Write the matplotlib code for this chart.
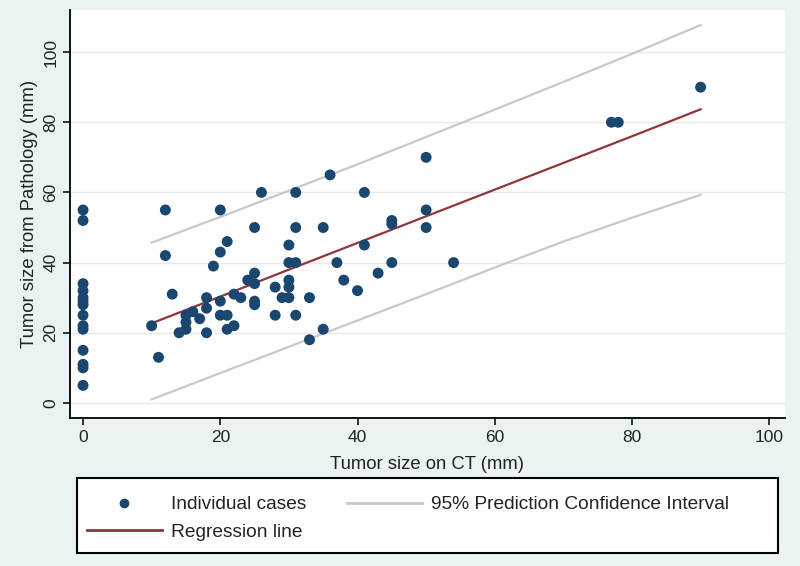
import matplotlib.pyplot as plt
from matplotlib.lines import Line2D
from matplotlib.patches import Rectangle
import numpy as np

plt.rcParams['font.family'] = ['Liberation Sans', 'DejaVu Sans']

# individual cases: CT size (x) vs pathology size (y), mm
ct_size = [0, 0, 0, 0, 0, 0, 0, 0, 0, 0, 0, 0, 0, 0,
           10, 11, 12, 12, 13, 14, 15, 15, 15, 16, 17, 18, 18, 18, 19,
           20, 20, 20, 20, 21, 21, 21, 22, 22, 23, 24, 25, 25, 25, 25, 25,
           26, 28, 28, 29, 30, 30, 30, 30, 30, 31, 31, 31, 31, 33, 33,
           35, 35, 36, 37, 38, 40, 41, 41, 43, 45, 45, 45, 50, 50, 50,
           54, 77, 78, 90]
path_size = [55, 52, 34, 32, 30, 29, 28, 25, 22, 21, 15, 11, 10, 5,
             22, 13, 55, 42, 31, 20, 25, 23, 21, 26, 24, 30, 27, 20, 39,
             55, 43, 29, 25, 46, 25, 21, 31, 22, 30, 35, 50, 37, 34, 29, 28,
             60, 33, 25, 30, 45, 40, 35, 33, 30, 60, 50, 40, 25, 30, 18,
             50, 21, 65, 40, 35, 32, 60, 45, 37, 52, 51, 40, 70, 55, 50,
             40, 80, 80, 90]

# regression line and 95% prediction interval
fit_x = [10, 20, 30, 40, 50, 60, 70, 80, 90]
fit_y = [22.7, 30.3, 38.0, 45.6, 53.2, 60.8, 68.4, 76.0, 83.7]
pi_upper = [45.7, 53.0, 60.5, 68.0, 75.8, 83.6, 91.5, 99.5, 107.7]
pi_lower = [1.0, 8.5, 16.0, 23.5, 31.0, 38.6, 46.0, 52.8, 59.3]

bg = '#eaf2f3'
navy = '#1a476f'
maroon = '#90353b'
grey = '#c8c8c8'
txt = '#222222'

fig = plt.figure(figsize=(8, 5.66), dpi=100, facecolor=bg)
ax = fig.add_axes([70/800, 1-418/566, (785-70)/800, (418-10)/566])
ax.set_facecolor('white')

ax.plot(fit_x, pi_upper, color=grey, lw=1.6, zorder=2)
ax.plot(fit_x, pi_lower, color=grey, lw=1.6, zorder=2)
ax.plot(fit_x, fit_y, color=maroon, lw=1.6, zorder=3)
ax.scatter(ct_size, path_size, s=62, color=navy, edgecolors='none', zorder=4)

ax.set_xlim(-1.9, 102.3)
ax.set_ylim(-4.3, 112)
ax.set_xticks(np.arange(0, 101, 20))
ax.set_yticks(np.arange(0, 101, 20))
ax.grid(axis='y', color='#e8e8e8', lw=1.0, zorder=0)
ax.grid(axis='x', visible=False)
ax.set_axisbelow(True)

for s in ['top', 'right']:
    ax.spines[s].set_visible(False)
for s in ['left', 'bottom']:
    ax.spines[s].set_linewidth(1.3)
    ax.spines[s].set_color('black')

ax.tick_params(axis='both', direction='out', length=5, width=1.3,
               labelsize=12.5, colors=txt)
plt.setp(ax.get_yticklabels(), rotation=90, va='center')

ax.set_xlabel('Tumor size on CT (mm)', fontsize=13.3, color=txt, labelpad=8)
ax.set_ylabel('Tumor size from Pathology (mm)', fontsize=13.3, color=txt, labelpad=4)

# legend box drawn separately so the columns can sit left-aligned inside it
fig.patches.append(Rectangle((77/800, 1-553/566), (778-77)/800, 75/566,
                             transform=fig.transFigure, facecolor='white',
                             edgecolor='black', lw=1.5, zorder=1))

handles = [
    Line2D([], [], ls='none', marker='o', ms=6, color=navy),
    Line2D([], [], color=maroon, lw=2),
    Line2D([], [], color=grey, lw=2),
]
labels = ['Individual cases', 'Regression line',
          '95% Prediction Confidence Interval']
leg = fig.legend(handles, labels, ncol=2, loc='upper left',
                 bbox_to_anchor=(83/800, 1-492/566),
                 fontsize=13.8, frameon=False, borderaxespad=0,
                 handlelength=3.9, handletextpad=0.5, borderpad=0.2,
                 labelspacing=0.55, columnspacing=2.1)
leg.set_zorder(2)
for t in leg.get_texts():
    t.set_color(txt)

fig.savefig('out.png', dpi=100, facecolor=bg)
